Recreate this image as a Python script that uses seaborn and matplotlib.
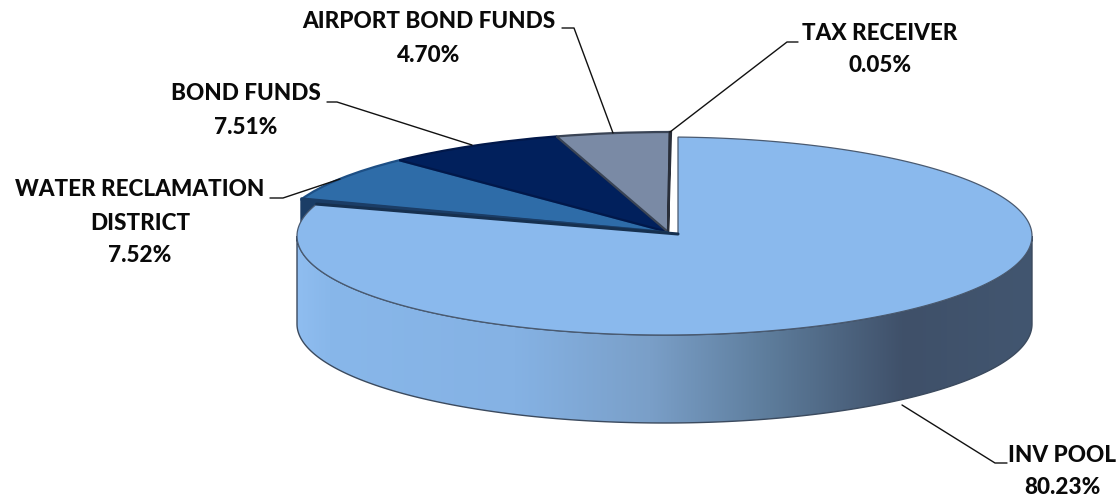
import matplotlib
matplotlib.use("Agg")
import matplotlib.pyplot as plt
from matplotlib.colors import to_rgb
from matplotlib.patches import Polygon
from matplotlib.transforms import Affine2D
import numpy as np
import seaborn as sns

categories = ["INV POOL", "WATER RECLAMATION\nDISTRICT", "BOND FUNDS", "AIRPORT BOND FUNDS", "TAX RECEIVER"]
values = [80.23, 7.52, 7.51, 4.70, 0.05]
value_labels = ["80.23%", "7.52%", "7.51%", "4.70%", "0.05%"]

slice_colors = ["#8ab9ed", "#2e6ca8", "#01205c", "#7a8aa5", "#2a2f3a"]
edge_colors = ["#16304f", "#1d4f85", "#01184a", "#3a4455", "#2a2f3a"]

# label centre (x, y of first line), leader line in pixels
label_pos = [(1062, 455), (140, 190), (246, 94), (429, 22), (880, 33)]
leaders = [
    [(902, 405), (995, 463), (1007, 463)],
    [(340, 179), (283, 198), (270, 198)],
    [(472, 145), (337, 102), (327, 102)],
    [(613, 133), (574, 28), (562, 28)],
    [(670, 132), (787, 42), (798, 42)],
]

# main ellipse of the pie, the pulled out slice has its tip off centre
cx, cy, rx, ry = 664.5, 236, 367.5, 99
depth = 88
tip_x, tip_y = 678, 234

sns.set_theme(style="white")
plt.rcParams["font.family"] = ["Lato", "DejaVu Sans"]

fig = plt.figure(figsize=(11.2, 5), dpi=100)
ax = fig.add_axes([0, 0, 1, 1])

wedges, _ = ax.pie(values, startangle=90, counterclock=False, colors=slice_colors)
ax.set_aspect("auto")
ax.set_xlim(0, 1120)
ax.set_ylim(500, 0)
ax.axis("off")

# small slices: squash the unit pie into the tilted ellipse
squash = Affine2D.from_values(389, 0, 3, -100, 668, 232)
for w, edge in zip(wedges[1:], edge_colors[1:]):
    w.set_transform(squash + ax.transData)
    w.set_edgecolor(edge)
    w.set_linewidth(1.6)
    w.set_zorder(2)

# dark side of the water slice
ax.fill([301, 668, 317, 301], [198, 232, 206, 222], color="#1b3d66", zorder=2.5)

# main slice top
start = np.degrees(np.arccos((tip_x - cx) / rx))
end = wedges[0].theta1
wedges[0].remove()
phi = np.radians(np.linspace(start, end, 300))
arc_x = cx + rx * np.cos(phi)
arc_y = cy - ry * np.sin(phi)
ax.fill(np.r_[tip_x, arc_x], np.r_[tip_y, arc_y], facecolor=slice_colors[0],
        edgecolor="#4a5a70", linewidth=0.9, zorder=4)
ax.plot([arc_x[-1], tip_x], [arc_y[-1], tip_y], color=edge_colors[0], lw=2.2, zorder=5)

# outer wall with left to right shading
t = np.radians(np.linspace(180, 360, 300))
wall_x = cx + rx * np.cos(t)
wall_top = cy - ry * np.sin(t)
wall_bot = wall_top + depth
wall_verts = np.c_[np.r_[wall_x, wall_x[::-1]], np.r_[wall_top, wall_bot[::-1]]]
wall = Polygon(wall_verts, closed=True, facecolor="none", edgecolor="#3b4a5e", lw=1.0, zorder=3.5)
ax.add_patch(wall)

stops = [(297, "#8fbdf0"), (330, "#88b7ea"), (515, "#85b2e4"), (650, "#7a9fc8"),
         (770, "#5d7c9b"), (905, "#3f5069"), (1032, "#425670")]
xs = np.arange(297, 1033)
stop_x = [s[0] for s in stops]
rgb = np.array([to_rgb(s[1]) for s in stops])
grad = np.stack([np.interp(xs, stop_x, rgb[:, i]) for i in range(3)], axis=1)[np.newaxis, :, :]
im = ax.imshow(grad, extent=(297, 1032, cy + ry + depth + 2, cy - 2), aspect="auto", zorder=3)
im.set_clip_path(Polygon(wall_verts, closed=True, transform=ax.transData))
ax.set_xlim(0, 1120)
ax.set_ylim(500, 0)

# labels
for cat, val, (lx, ly), line in zip(categories, value_labels, label_pos, leaders):
    rows = cat.split("\n") + [val]
    for i, row in enumerate(rows):
        ax.text(lx, ly + i * 33, row, ha="center", va="center", fontsize=16.2,
                fontweight=900, color="#0a0a0a", zorder=7)
    ax.plot([p[0] for p in line], [p[1] for p in line], color="#111111", lw=1.0, zorder=6)

fig.savefig("out.png", dpi=100, facecolor="white")
